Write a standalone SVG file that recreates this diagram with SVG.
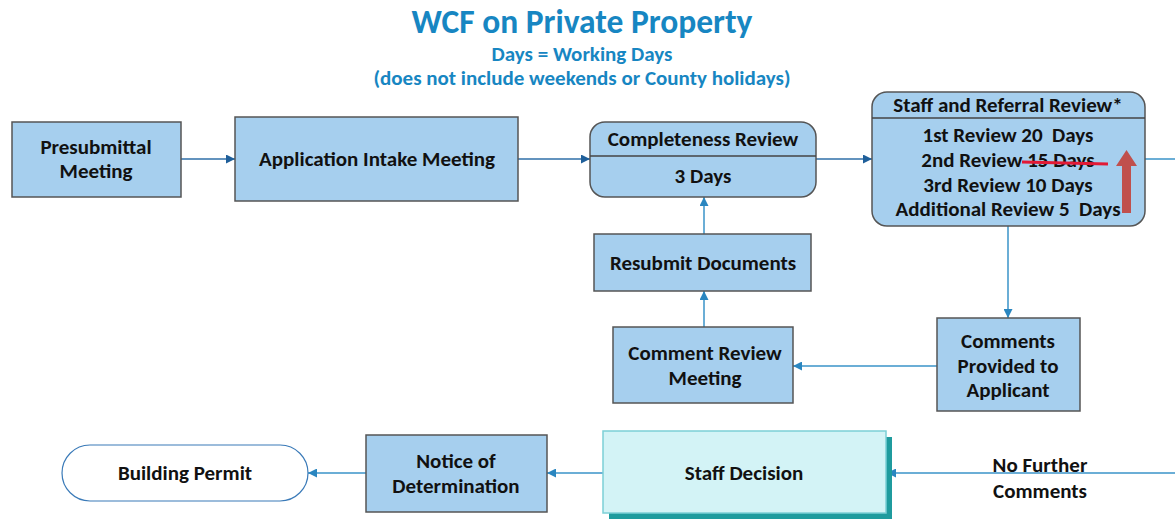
<svg xmlns="http://www.w3.org/2000/svg" width="1175" height="520" viewBox="0 0 1175 520">
<defs>
<style>
text{font-family:Carlito,"Liberation Sans",Arial,sans-serif;font-weight:bold;fill:#111;text-anchor:middle}
.t{font-size:21px}
.pre{white-space:pre}
.box{fill:#a6cfee;stroke:#555;stroke-width:1.5}
.con{stroke:#3a93c8;stroke-width:1.5;fill:none}
.conD{stroke:#2f6fa8;stroke-width:1.5;fill:none}
.ttl{fill:#1786c2}
</style>
<marker id="ah" viewBox="0 0 10 10" refX="10" refY="5" markerWidth="9" markerHeight="9" markerUnits="userSpaceOnUse" orient="auto"><path d="M0,0L10,5L0,10z" fill="#2a86c0"/></marker>
<marker id="ahD" viewBox="0 0 10 10" refX="10" refY="5" markerWidth="9" markerHeight="9" markerUnits="userSpaceOnUse" orient="auto"><path d="M0,0L10,5L0,10z" fill="#1f5f9a"/></marker>
</defs>
<rect width="1175" height="520" fill="#fff"/>
<g id="title">
<text class="ttl" x="582" y="33" style="font-size:33.5px">WCF on Private Property</text>
<text class="ttl" x="582" y="61" style="font-size:21px">Days = Working Days</text>
<text class="ttl" x="582" y="85" style="font-size:21px">(does not include weekends or County holidays)</text>
</g>
<g id="connectors">
<line class="conD" x1="181" y1="159" x2="235" y2="159" marker-end="url(#ahD)"/>
<line class="conD" x1="518" y1="159" x2="590" y2="159" marker-end="url(#ahD)"/>
<line class="conD" x1="816" y1="159" x2="872" y2="159" marker-end="url(#ahD)"/>
<line class="con" x1="1145" y1="159" x2="1175" y2="159"/>
<line class="con" x1="1008" y1="226" x2="1008" y2="318" marker-end="url(#ah)"/>
<line class="con" x1="937" y1="366" x2="793" y2="366" marker-end="url(#ah)"/>
<line class="con" x1="704" y1="327" x2="704" y2="291" marker-end="url(#ah)"/>
<line class="con" x1="704" y1="234" x2="704" y2="197" marker-end="url(#ah)"/>
<line class="con" x1="1175" y1="473" x2="887" y2="473" marker-end="url(#ah)"/>
<line class="con" x1="603" y1="473" x2="547" y2="473" marker-end="url(#ah)"/>
<line class="con" x1="366" y1="473" x2="308" y2="473" marker-end="url(#ah)"/>
<text class="t" x="1040" y="472">No Further</text>
<text class="t" x="1040" y="498">Comments</text>
</g>
<g id="presubmittal">
<rect class="box" x="12" y="122" width="169" height="75"/>
<text class="t" x="96" y="154">Presubmittal</text>
<text class="t" x="96" y="178">Meeting</text>
</g>
<g id="intake">
<rect class="box" x="235" y="117" width="283" height="84"/>
<text class="t" x="377" y="166">Application Intake Meeting</text>
</g>
<g id="completeness">
<rect class="box" x="590" y="122" width="226" height="75" rx="15"/>
<line x1="590" y1="156" x2="816" y2="156" stroke="#444" stroke-width="1.5"/>
<text class="t" x="703" y="146">Completeness Review</text>
<text class="t" x="703" y="183">3 Days</text>
</g>
<g id="staff-review">
<rect class="box" x="872" y="92" width="273" height="134" rx="15"/>
<line x1="872" y1="118" x2="1145" y2="118" stroke="#444" stroke-width="1.5"/>
<text class="t" x="1008" y="112">Staff and Referral Review*</text>
<text class="t pre" x="1008" y="142">1st Review 20  Days</text>
<text class="t" x="1008" y="167">2nd Review 15 Days</text>
<text class="t" x="1008" y="192">3rd Review 10 Days</text>
<text class="t pre" x="1008" y="216">Additional Review 5  Days</text>
<line x1="1022" y1="162" x2="1108" y2="164" stroke="#e21a36" stroke-width="3"/>
<path d="M1122,213 L1122,166 L1116,166 L1126.5,150 L1137,166 L1131,166 L1131,213 Z" fill="#c0504d"/>
</g>
<g id="resubmit">
<rect class="box" x="594" y="234" width="217" height="57"/>
<text class="t" x="703" y="270">Resubmit Documents</text>
</g>
<g id="comment-review">
<rect class="box" x="613" y="327" width="180" height="76"/>
<text class="t" x="705" y="360">Comment Review</text>
<text class="t" x="705" y="385">Meeting</text>
</g>
<g id="comments-provided">
<rect class="box" x="937" y="318" width="143" height="93"/>
<text class="t" x="1008" y="348">Comments</text>
<text class="t" x="1008" y="373">Provided to</text>
<text class="t" x="1008" y="397">Applicant</text>
</g>
<g id="staff-decision">
<rect x="609" y="437" width="283" height="82" fill="#1f9b9e"/>
<rect x="603" y="431" width="283" height="82" fill="#d3f3f6" stroke="#7ccfd6" stroke-width="1.5"/>
<text class="t" x="744" y="480">Staff Decision</text>
</g>
<g id="notice">
<rect class="box" x="366" y="435" width="181" height="77"/>
<text class="t" x="456" y="468">Notice of</text>
<text class="t" x="456" y="493">Determination</text>
</g>
<g id="building-permit">
<rect x="62" y="445" width="246" height="56" rx="28" fill="#fff" stroke="#3a7ab8" stroke-width="1.2"/>
<text class="t" x="185" y="480">Building Permit</text>
</g>
</svg>
